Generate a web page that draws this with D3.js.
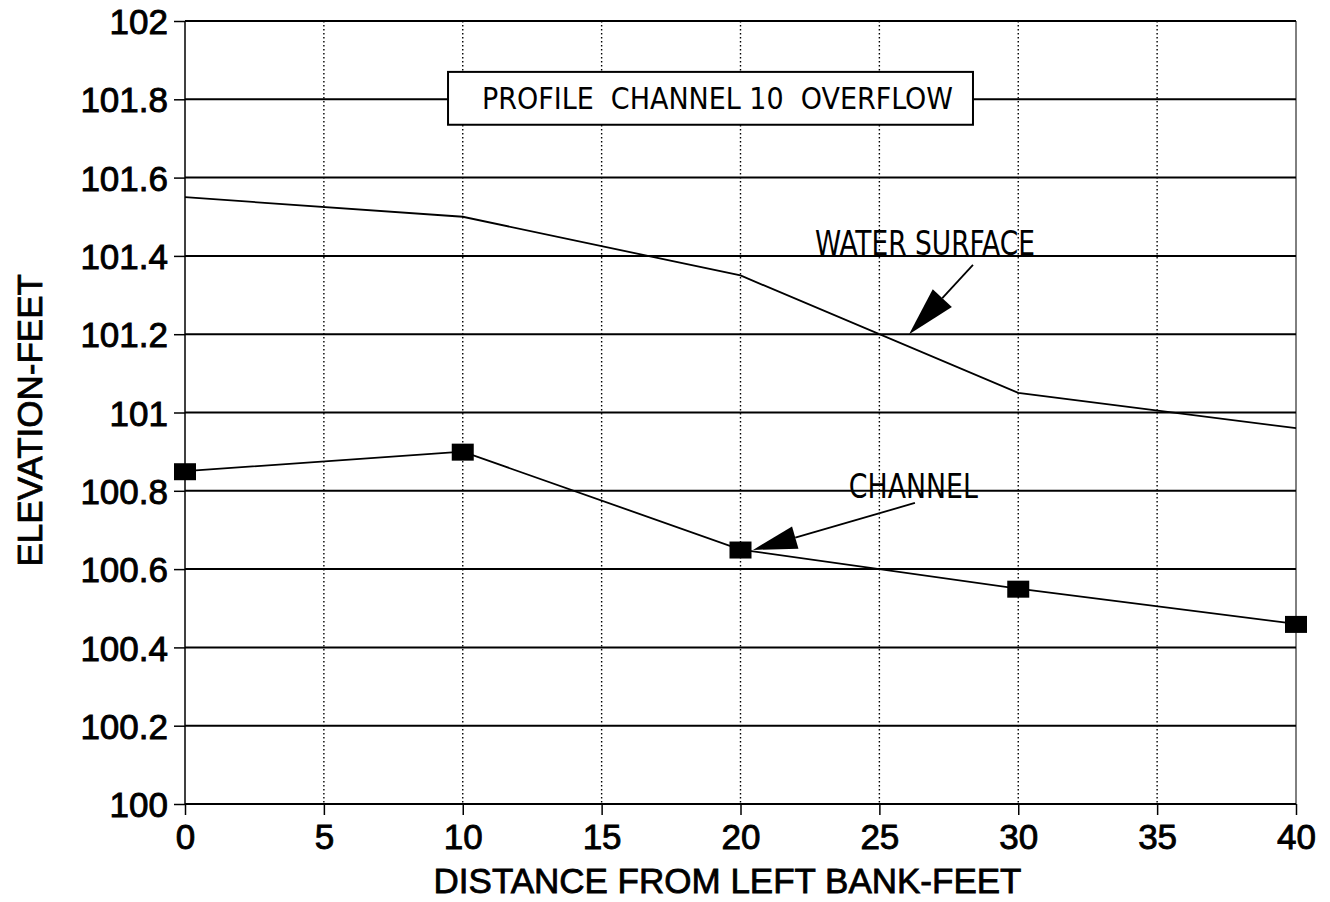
<!DOCTYPE html>
<html>
<head>
<meta charset="utf-8">
<script src="https://cdn.jsdelivr.net/npm/d3@7"></script>
<style>
  body { margin: 0; background: #fff; }
  svg { display: block; }
  .tick-label { font-family: "Liberation Sans", Arial, sans-serif; font-size: 35px; fill: #000; stroke: #000; stroke-width: 0.9px; }
  .axis-title { font-family: "Liberation Sans", Arial, sans-serif; font-size: 35px; fill: #000; stroke: #000; stroke-width: 0.8px; }
  .note { font-family: "Liberation Sans Narrow", "DejaVu Sans Condensed", sans-serif; font-size: 33px; fill: #000; white-space: pre; }
  .note.box-text { font-size: 30px; }
</style>
</head>
<body>
<svg id="chart"></svg>
<script>
// data
let distance = [0, 10, 20, 30, 40];
let waterSurface = [101.55, 101.5, 101.35, 101.05, 100.96];
let channel = [100.85, 100.9, 100.65, 100.55, 100.46];
let xTicks = [0, 5, 10, 15, 20, 25, 30, 35, 40];
let yTicks = [100, 100.2, 100.4, 100.6, 100.8, 101, 101.2, 101.4, 101.6, 101.8, 102];

let W = 1330, H = 902;
let plotLeft = 185, plotRight = 1296, plotTop = 21, plotBottom = 804;

let svg = d3.select("#chart").attr("width", W).attr("height", H);

let x = d3.scaleLinear().domain([0, 40]).range([plotLeft, plotRight]);
let y = d3.scaleLinear().domain([100, 102]).range([plotBottom, plotTop]);

// vertical dotted grid
svg.append("g").selectAll("line")
    .data(xTicks.filter(function (d) { return d > 0 && d < 40; }))
    .enter().append("line")
    .attr("x1", function (d) { return x(d); }).attr("x2", function (d) { return x(d); })
    .attr("y1", y(102)).attr("y2", y(100))
    .attr("stroke", "#000").attr("stroke-width", 1.4)
    .attr("stroke-dasharray", "1.5,2.5");

// horizontal solid grid
svg.append("g").selectAll("line")
    .data(yTicks)
    .enter().append("line")
    .attr("x1", x(0)).attr("x2", x(40))
    .attr("y1", function (d) { return y(d); }).attr("y2", function (d) { return y(d); })
    .attr("stroke", "#000").attr("stroke-width", 2);

// frame sides
svg.append("line").attr("x1", x(0)).attr("x2", x(0)).attr("y1", y(102)).attr("y2", y(100))
    .attr("stroke", "#000").attr("stroke-width", 1.5);
svg.append("line").attr("x1", x(40)).attr("x2", x(40)).attr("y1", y(102)).attr("y2", y(100))
    .attr("stroke", "#000").attr("stroke-width", 1);

// axes
let yAxis = svg.append("g")
    .attr("transform", "translate(" + plotLeft + ",0)")
    .call(d3.axisLeft(y).tickValues(yTicks).tickSize(11).tickPadding(6)
        .tickFormat(function (d) { return String(+d.toFixed(1)); }));
let xAxis = svg.append("g")
    .attr("transform", "translate(0," + plotBottom + ")")
    .call(d3.axisBottom(x).tickValues(xTicks).tickSize(11).tickPadding(9));

[yAxis, xAxis].forEach(function (a) {
    a.attr("font-size", null).attr("font-family", null);
    a.select(".domain").remove();
    a.selectAll(".tick line").attr("stroke", "#000").attr("stroke-width", 1.5);
    a.selectAll(".tick text").attr("class", "tick-label");
});
yAxis.selectAll(".tick text").attr("dy", "0.36em");
xAxis.selectAll(".tick text").attr("dy", "0.72em");

// axis titles
svg.append("text").attr("class", "axis-title")
    .attr("x", x(20) - 13).attr("y", 893)
    .attr("text-anchor", "middle")
    .text("DISTANCE FROM LEFT BANK-FEET");
svg.append("text").attr("class", "axis-title")
    .attr("transform", "translate(42," + y(100.98) + ") rotate(-90)")
    .attr("text-anchor", "middle")
    .text("ELEVATION-FEET");

// lines
let line = d3.line()
    .x(function (d) { return x(d[0]); })
    .y(function (d) { return y(d[1]); });

svg.append("path")
    .datum(d3.zip(distance, waterSurface))
    .attr("d", line).attr("fill", "none")
    .attr("stroke", "#000").attr("stroke-width", 1.8);

svg.append("path")
    .datum(d3.zip(distance, channel))
    .attr("d", line).attr("fill", "none")
    .attr("stroke", "#000").attr("stroke-width", 1.8);

svg.append("g").selectAll("rect")
    .data(d3.zip(distance, channel))
    .enter().append("rect")
    .attr("x", function (d) { return x(d[0]) - 11; })
    .attr("y", function (d) { return y(d[1]) - 8; })
    .attr("width", 22).attr("height", 17)
    .attr("fill", "#000");

// title box
let box = svg.append("g");
box.append("rect")
    .attr("x", x(9.47)).attr("y", y(101.87))
    .attr("width", x(28.37) - x(9.47)).attr("height", y(101.735) - y(101.87))
    .attr("fill", "#fff").attr("stroke", "#000").attr("stroke-width", 2);
box.append("text").attr("class", "note box-text")
    .attr("x", 482).attr("y", y(101.8) + 10)
    .attr("textLength", 471).attr("lengthAdjust", "spacingAndGlyphs")
    .text("PROFILE  CHANNEL 10  OVERFLOW");

// annotations with arrows
function arrow(from, tip, headLen, headW) {
    let x0 = x(from[0]), y0 = y(from[1]), x1 = x(tip[0]), y1 = y(tip[1]);
    let ang = Math.atan2(y0 - y1, x0 - x1);
    let bx = x1 + headLen * Math.cos(ang), by = y1 + headLen * Math.sin(ang);
    let px = -Math.sin(ang) * headW / 2, py = Math.cos(ang) * headW / 2;
    svg.append("line").attr("x1", x0).attr("y1", y0).attr("x2", bx).attr("y2", by)
        .attr("stroke", "#000").attr("stroke-width", 1.8);
    svg.append("path")
        .attr("d", "M" + x1 + "," + y1 + "L" + (bx + px) + "," + (by + py) + "L" + (bx - px) + "," + (by - py) + "Z")
        .attr("fill", "#000");
}

svg.append("text").attr("class", "note")
    .attr("x", x(22.68)).attr("y", y(101.402))
    .attr("textLength", 220).attr("lengthAdjust", "spacingAndGlyphs")
    .text("WATER SURFACE");
arrow([28.37, 101.377], [26.07, 101.2], 49, 26);

svg.append("text").attr("class", "note")
    .attr("x", x(23.9)).attr("y", y(100.782))
    .attr("textLength", 129).attr("lengthAdjust", "spacingAndGlyphs")
    .text("CHANNEL");
arrow([26.28, 100.769], [20.45, 100.649], 44, 23);
</script>
</body>
</html>
